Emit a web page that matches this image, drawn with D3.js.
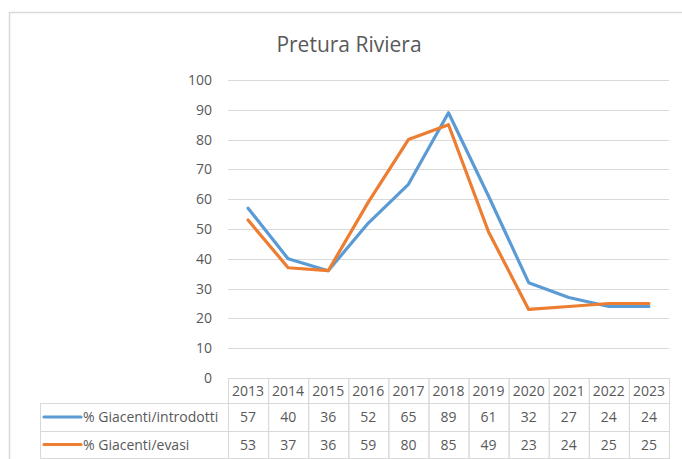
<!DOCTYPE html>
<html>
<head>
<meta charset="utf-8">
<script src="https://cdn.jsdelivr.net/npm/d3@7"></script>
<style>
  body { margin: 0; background: #fff; }
  text { font-family: "Open Sans", "Liberation Sans", sans-serif; fill: #595959; }
</style>
</head>
<body>
<div id="chart"></div>
<script>
// Chart data
var years = ["2013", "2014", "2015", "2016", "2017", "2018", "2019", "2020", "2021", "2022", "2023"];
var introdotti = [57, 40, 36, 52, 65, 89, 61, 32, 27, 24, 24];
var evasi = [53, 37, 36, 59, 80, 85, 49, 23, 24, 25, 25];
var seriesNames = ["% Giacenti/introdotti", "% Giacenti/evasi"];
var seriesColors = ["#5B9BD5", "#ED7D31"];
var yTicks = [0, 10, 20, 30, 40, 50, 60, 70, 80, 90, 100];

var series = [introdotti, evasi];

// Create the svg
var svg = d3.select("#chart")
  .append("svg")
  .attr("width", 682)
  .attr("height", 459);

// Outer chart border
svg.append("rect")
  .attr("x", 9.5)
  .attr("y", 12.5)
  .attr("width", 700)
  .attr("height", 500)
  .attr("fill", "none")
  .attr("stroke", "#D9D9D9")
  .attr("stroke-width", 1.5);

// Title
svg.append("text")
  .attr("x", 349)
  .attr("y", 52)
  .attr("text-anchor", "middle")
  .style("font-size", "21px")
  .text("Pretura Riviera");

// Scales
var x = d3.scaleBand()
  .domain(years)
  .range([228, 669]);

var y = d3.scaleLinear()
  .domain([0, 100])
  .range([378, 80]);

// Gridlines
svg.append("g").attr("class", "grid")
  .selectAll("line")
  .data(yTicks.filter(d => d > 0))
  .enter()
  .append("line")
  .attr("x1", 228)
  .attr("x2", 669)
  .attr("y1", d => Math.round(y(d)) + 0.5)
  .attr("y2", d => Math.round(y(d)) + 0.5)
  .attr("stroke", "#D9D9D9")
  .attr("stroke-width", 1);

// Y axis labels
var yAxis = d3.axisLeft(y).tickValues(yTicks).tickSize(0).tickPadding(0);
var yg = svg.append("g")
  .attr("transform", "translate(212,0)")
  .call(yAxis);
yg.select(".domain").remove();
yg.selectAll("text")
  .style("font-size", "14px")
  .attr("fill", "#595959");

// Lines
var line = d3.line()
  .x((d, i) => x(years[i]) + x.bandwidth() / 2)
  .y(d => y(d));

svg.selectAll(".series")
  .data(series)
  .enter()
  .append("path")
  .attr("class", "series")
  .attr("d", line)
  .attr("fill", "none")
  .attr("stroke", (d, i) => seriesColors[i])
  .attr("stroke-width", 3.2)
  .attr("stroke-linejoin", "round")
  .attr("stroke-linecap", "round");

// Data table
var rowTops = [378, 403, 431, 458];
var legendLeft = 40;
var table = svg.append("g").attr("class", "table");

// Header cells (years)
years.forEach(function(yr) {
  table.append("rect")
    .attr("x", x(yr) + 0.5)
    .attr("y", rowTops[0] + 0.5)
    .attr("width", x.bandwidth())
    .attr("height", rowTops[1] - rowTops[0])
    .attr("fill", "none")
    .attr("stroke", "#D9D9D9");
  table.append("text")
    .attr("x", x(yr) + x.bandwidth() / 2)
    .attr("y", rowTops[0] + 18)
    .attr("text-anchor", "middle")
    .style("font-size", "14px")
    .text(yr);
});

// Series rows
series.forEach(function(vals, r) {
  var top = rowTops[r + 1];
  var h = rowTops[r + 2] - top;
  table.append("rect")
    .attr("x", legendLeft + 0.5)
    .attr("y", top + 0.5)
    .attr("width", x(years[0]) - legendLeft)
    .attr("height", h)
    .attr("fill", "none")
    .attr("stroke", "#D9D9D9");
  table.append("line")
    .attr("x1", legendLeft + 4)
    .attr("x2", legendLeft + 41)
    .attr("y1", top + h / 2)
    .attr("y2", top + h / 2)
    .attr("stroke", seriesColors[r])
    .attr("stroke-width", 3.2)
    .attr("stroke-linecap", "round");
  table.append("text")
    .attr("x", legendLeft + 43)
    .attr("y", top + h / 2 + 5)
    .style("font-size", "14px")
    .text(seriesNames[r]);

  vals.forEach(function(v, i) {
    table.append("rect")
      .attr("x", x(years[i]) + 0.5)
      .attr("y", top + 0.5)
      .attr("width", x.bandwidth())
      .attr("height", h)
      .attr("fill", "none")
      .attr("stroke", "#D9D9D9");
    table.append("text")
      .attr("x", x(years[i]) + x.bandwidth() / 2)
      .attr("y", top + h / 2 + 5)
      .attr("text-anchor", "middle")
      .style("font-size", "14px")
      .text(v);
  });
});
</script>
</body>
</html>
